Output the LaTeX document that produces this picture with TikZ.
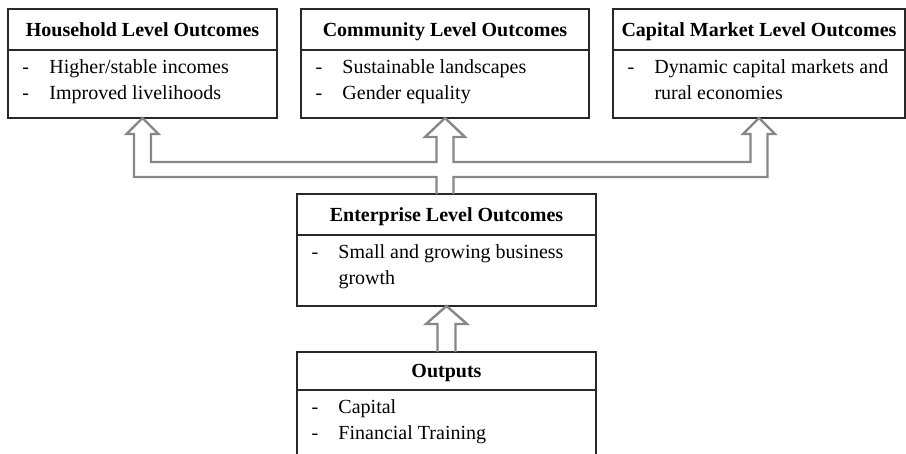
\documentclass[tikz,border=0pt]{standalone}
\usepackage{fontspec}
\setmainfont{Liberation Serif}
\usetikzlibrary{positioning}
\definecolor{arrowgray}{RGB}{135,135,135}
\definecolor{boxline}{RGB}{40,40,40}
\newcommand{\dashitem}[1]{\makebox[27pt][l]{-}#1\strut}
\newcommand{\dashmore}[1]{\hspace*{27pt}#1\strut}
\newcommand{\bodytext}[3]{\parbox[c][#2][t]{#1}{\setlength{\leftskip}{14.5pt}\vspace*{4.5pt}#3}}

\begin{document}
\begin{tikzpicture}[x=1pt,y=-1pt,
    headbox/.style={draw=boxline,line width=1.2pt,inner sep=0pt,outer sep=0pt,minimum height=41pt,
      text height=13pt,text depth=0pt,font=\fontsize{20}{26.5}\selectfont\bfseries},
    bodybox/.style={draw=boxline,line width=1.2pt,inner sep=0pt,outer sep=0pt,
      font=\fontsize{20}{26.5}\selectfont},
    hollow/.style={draw=arrowgray,line width=2.4pt}]
    \path[use as bounding box,clip] (0,0) rectangle (906,453);
    % Top level outcomes
    \node[headbox,anchor=north west,minimum width=269pt] (hh) at (8,9) {Household Level Outcomes};
    \node[bodybox,below=0pt of hh] (hhb) {\bodytext{269pt}{68pt}{\dashitem{Higher/stable incomes}\\ \dashitem{Improved livelihoods}}};
    \node[headbox,anchor=north west,minimum width=288pt] (cm) at (301,9) {Community Level Outcomes};
    \node[bodybox,below=0pt of cm] (cmb) {\bodytext{288pt}{68pt}{\dashitem{Sustainable landscapes}\\ \dashitem{Gender equality}}};
    \node[headbox,anchor=north west,minimum width=292pt] (cp) at (613,9) {Capital Market Level Outcomes};
    \node[bodybox,below=0pt of cp] (cpb) {\bodytext{292pt}{68pt}{\dashitem{Dynamic capital markets and}\\ \dashmore{rural economies}}};
    % Enterprise and outputs
    \node[headbox,anchor=north west,minimum width=299pt] (ent) at (297,194) {Enterprise Level Outcomes};
    \node[bodybox,below=0pt of ent] (entb) {\bodytext{299pt}{71pt}{\dashitem{Small and growing business}\\ \dashmore{growth}}};
    \node[headbox,anchor=north west,minimum width=299pt,minimum height=38pt] (out) at (297,352) {Outputs};
    \node[bodybox,below=0pt of out] (outb) {\bodytext{299pt}{80pt}{\dashitem{Capital}\\ \dashitem{Financial Training}}};
    % Hollow arrows
    \coordinate (lo) at (0,177);
    \coordinate (hi) at (0,162);
    \draw[hollow] ([xshift=-8.5pt]cmb.south |- ent.north) -- ([xshift=-8.5pt]cmb.south |- lo)
      -- ([xshift=-8.5pt]hhb.south |- lo) -- ++(0,-43) -- ++(-7.5,0) -- (hhb.south) -- ++(16,16) -- ++(-7.5,0)
      -- ([xshift=8.5pt]hhb.south |- hi) -- ([xshift=-8.5pt]cmb.south |- hi) -- ++(0,-25) -- ++(-11.5,0)
      -- (cmb.south) -- ++(20,19) -- ++(-11.5,0)
      -- ([xshift=8.5pt]cmb.south |- hi) -- ([xshift=-8.5pt]cpb.south |- hi) -- ++(0,-28) -- ++(-7.5,0)
      -- (cpb.south) -- ++(16,16) -- ++(-7.5,0)
      -- ([xshift=8.5pt]cpb.south |- lo) -- ([xshift=8.5pt]cmb.south |- lo) -- ([xshift=8.5pt]cmb.south |- ent.north);
    \draw[hollow] ([xshift=-9pt]entb.south |- out.north) -- ([xshift=-9pt,yshift=-18pt]entb.south) -- ++(-11.5,0)
      -- (entb.south) -- ++(20.5,18) -- ++(-11.5,0) -- ([xshift=9pt]entb.south |- out.north);
\end{tikzpicture}
\end{document}
